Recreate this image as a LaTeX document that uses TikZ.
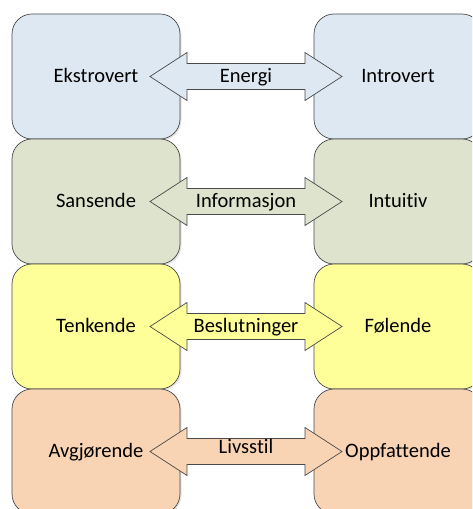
\documentclass[tikz,border=0pt]{standalone}
\usepackage{fontspec}
\setmainfont[Ligatures=CommonOff]{Carlito}
\usetikzlibrary{shadows}

% fills for the four preference pairs
\definecolor{rowA}{HTML}{DEE8F2}
\definecolor{rowB}{HTML}{DDE3CC}
\definecolor{rowC}{HTML}{FFFF99}
\definecolor{rowD}{HTML}{F8D4B4}
\definecolor{edge}{HTML}{4A4A4A}

\begin{document}
\begin{tikzpicture}[x=1pt,y=-1pt,
  txt/.style={font=\fontsize{20.5}{24}\selectfont, text=black,
    text height=14pt, text depth=3pt},
  box/.style={draw=edge, line width=0.7pt, rounded corners=20pt,
    minimum width=168pt, minimum height=125pt, inner sep=0pt, txt,
    drop shadow={shadow xshift=1.5pt, shadow yshift=-1.5pt, opacity=0.2}},
  blockarrow/.style={draw=edge, line width=0.7pt, line join=miter},
  lbl/.style={inner sep=0pt, txt}]
\useasboundingbox (0,0) rectangle (472,509);
\clip (0,0) rectangle (472,509);

% the paired boxes, one row per dimension
\foreach \i/\col/\lt/\rt in {0/rowA/Ekstrovert/Introvert,
                             1/rowB/Sansende/Intuitiv,
                             2/rowC/Tenkende/Følende,
                             3/rowD/Avgjørende/Oppfattende}{
  \pgfmathsetmacro{\cy}{76.5+125*\i}
  \node[box, fill=\col] (L\i) at (96,\cy) {\lt};
  \node[box, fill=\col] (R\i) at (398,\cy) {\rt};
}

% double-headed block arrows carrying the dimension name
\foreach \i/\col/\mid/\dy in {0/rowA/Energi/0,
                              1/rowB/Informasjon/0,
                              2/rowC/Beslutninger/0,
                              3/rowD/Livsstil/-4}{
  \pgfmathsetmacro{\cy}{76.5+125*\i}
  \draw[blockarrow, fill=\col]
    (150,\cy) -- (187,\cy-24) -- (187,\cy-13) -- (305,\cy-13)
    -- (305,\cy-24) -- (342,\cy) -- (305,\cy+24) -- (305,\cy+13)
    -- (187,\cy+13) -- (187,\cy+24) -- cycle;
  \node[lbl] (A\i) at (246,\cy+\dy) {\mid};
}
\end{tikzpicture}
\end{document}
